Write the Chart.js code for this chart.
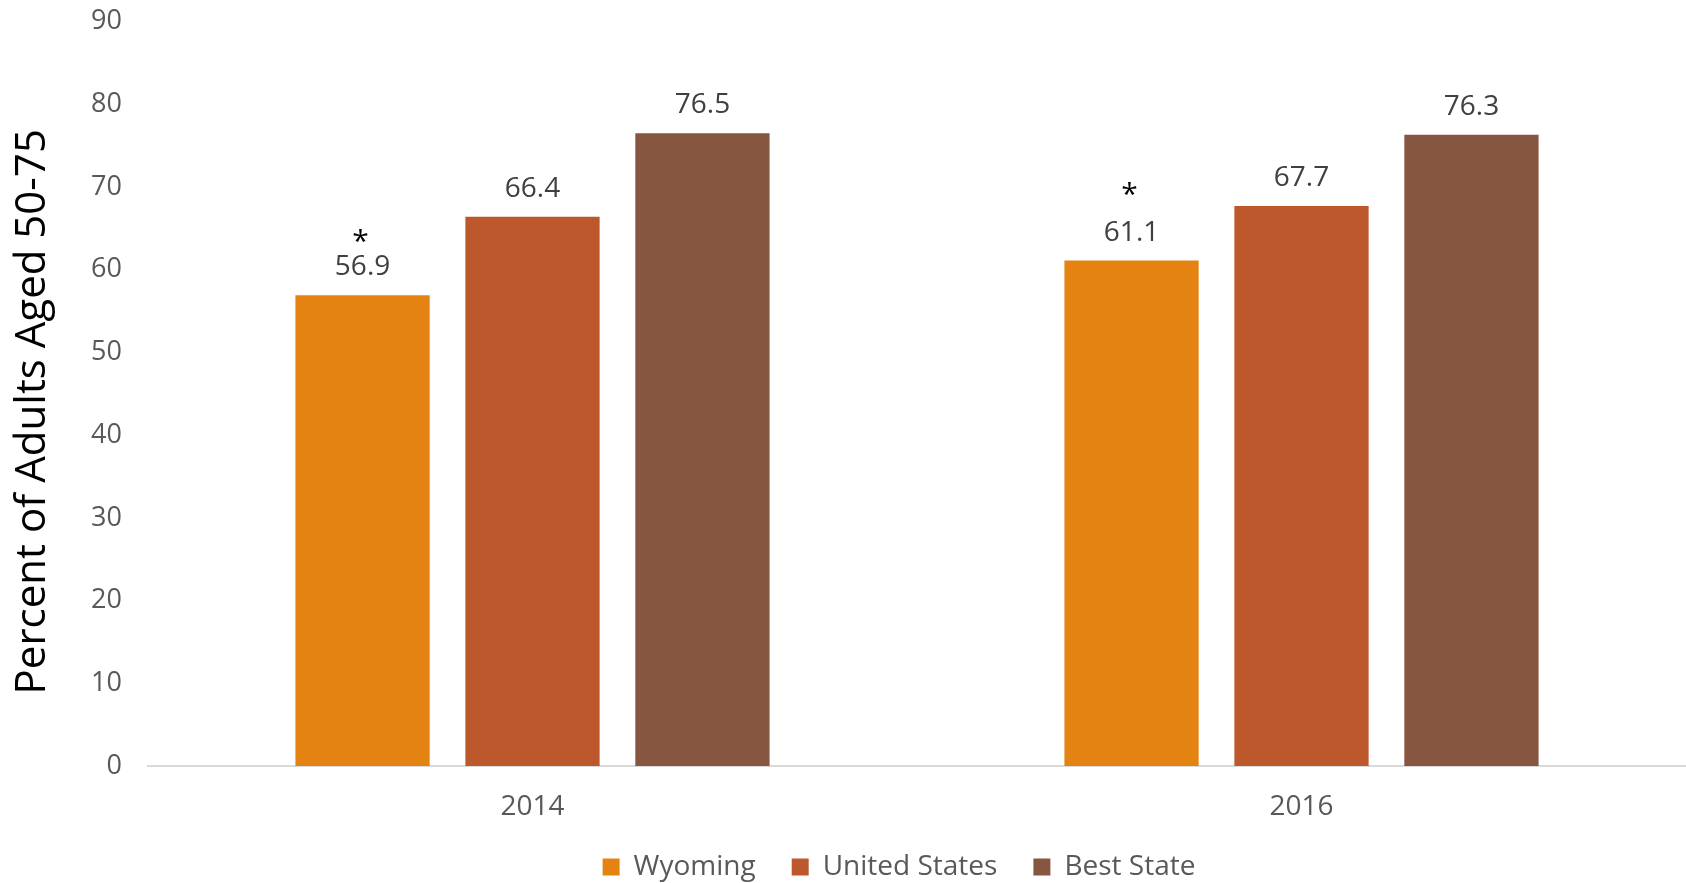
<!DOCTYPE html>
<html>
<head>
<meta charset="utf-8">
<script src="https://cdn.jsdelivr.net/npm/chart.js@4.4.1/dist/chart.umd.min.js"></script>
<style>
  html, body { margin: 0; padding: 0; background: #fff; }
  #wrap { width: 1686px; height: 883px; }
</style>
</head>
<body>
<div id="wrap"><canvas id="chart"></canvas></div>
<script>
// screening rates, percent of adults aged 50-75
const years = ['2014', '2016']
const wyoming = [56.9, 61.1]
const unitedStates = [66.4, 67.7]
const bestState = [76.5, 76.3]
// Wyoming values flagged with an asterisk
const wyomingFlags = [true, true]

const FONT = '"Open Sans", "Noto Sans", sans-serif'

// value labels above each bar, asterisk markers, small layout nudges
const barLabels = {
  id: 'barLabels',
  afterLayout(chart, args, opts) {
    // legend sits a little right of the canvas centre
    const lg = chart.legend
    if (lg) {
      lg.left += opts.legendShift
      lg.right += opts.legendShift
    }
    // y title sits a bit below the middle of the axis
    const ys = chart.scales.y
    if (ys && !ys._titleNudged) {
      const draw = ys.drawTitle.bind(ys)
      ys.drawTitle = function () {
        this.ctx.save()
        this.ctx.translate(0, opts.titleShift)
        draw()
        this.ctx.restore()
      }
      ys._titleNudged = true
    }
  },
  afterDatasetsDraw(chart, args, opts) {
    const ctx = chart.ctx
    ctx.save()
    ctx.textAlign = 'center'
    ctx.textBaseline = 'middle'
    chart.data.datasets.forEach((ds, i) => {
      const meta = chart.getDatasetMeta(i)
      meta.data.forEach((bar, j) => {
        ctx.font = '28px ' + FONT
        ctx.fillStyle = '#404040'
        const y = bar.y - 28
        ctx.fillText(ds.data[j].toFixed(1), bar.x, y)
        if (ds.flags && ds.flags[j]) {
          ctx.font = '30px ' + FONT
          ctx.fillStyle = '#000'
          ctx.fillText('*', bar.x - 2, y - opts.starGap[j] + 5)
        }
      })
    })
    ctx.restore()
  }
}

new Chart(document.getElementById('chart'), {
  type: 'bar',
  data: {
    labels: years,
    datasets: [
      { label: 'Wyoming', data: wyoming, flags: wyomingFlags, backgroundColor: '#E48312' },
      { label: 'United States', data: unitedStates, backgroundColor: '#BD582C' },
      { label: 'Best State', data: bestState, backgroundColor: '#865640' },
    ],
  },
  options: {
    responsive: true,
    maintainAspectRatio: false,
    animation: false,
    categoryPercentage: 0.663,
    barPercentage: 0.79,
    layout: { padding: { top: 21.5, left: 0, right: 0, bottom: 0 } },
    scales: {
      x: {
        grid: { display: false, drawTicks: false },
        border: { display: true, color: '#D9D9D9', width: 2 },
        ticks: { color: '#595959', font: { family: FONT, size: 28 }, padding: 24 },
        afterFit(scale) { scale.height = 51 },
      },
      y: {
        min: 0,
        max: 90,
        grid: { display: false, drawTicks: false },
        border: { display: false },
        ticks: { stepSize: 10, color: '#595959', font: { family: FONT, size: 27 }, padding: 26 },
        title: {
          display: true,
          text: 'Percent of Adults Aged 50-75',
          color: '#000',
          font: { family: FONT, size: 42 },
          padding: { top: 8, bottom: 4 },
        },
        afterFit(scale) {
          scale.width = 148
          scale.paddingTop = 0
          scale.paddingBottom = 0
        },
      },
    },
    plugins: {
      legend: {
        position: 'bottom',
        maxHeight: 66,
        labels: {
          color: '#595959',
          font: { family: FONT, size: 28 },
          boxWidth: 17,
          boxHeight: 17,
          padding: 36,
        },
      },
      tooltip: { enabled: false },
      barLabels: { starGap: [30, 42], legendShift: 56, titleShift: 18 },
    },
  },
  plugins: [barLabels],
})
</script>
</body>
</html>
